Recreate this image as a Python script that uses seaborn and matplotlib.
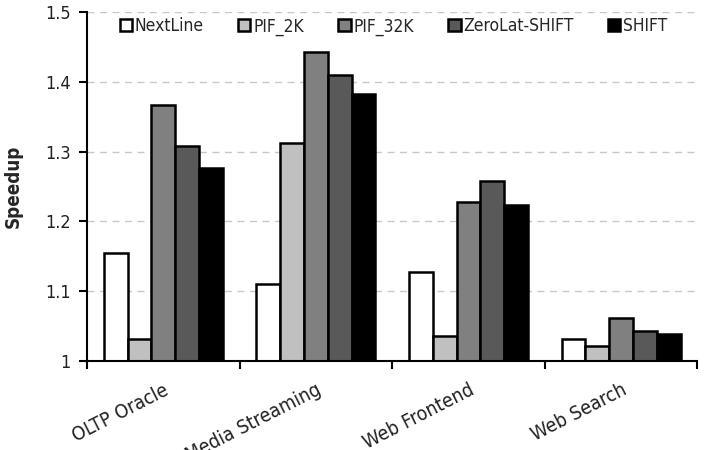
import pandas as pd
import matplotlib.pyplot as plt
import seaborn as sns
from matplotlib.ticker import FixedLocator

# data
workloads = ["OLTP Oracle", "Media Streaming", "Web Frontend", "Web Search"]
schemes = ["NextLine", "PIF_2K", "PIF_32K", "ZeroLat-SHIFT", "SHIFT"]
nextline = [1.155, 1.110, 1.128, 1.031]
pif_2k = [1.032, 1.313, 1.036, 1.021]
pif_32k = [1.367, 1.443, 1.228, 1.062]
zerolat_shift = [1.308, 1.410, 1.258, 1.043]
shift = [1.276, 1.383, 1.223, 1.038]
colors = ["#ffffff", "#c0c0c0", "#808080", "#595959", "#000000"]

values = [nextline, pif_2k, pif_32k, zerolat_shift, shift]
rows = []
for s, vals in zip(schemes, values):
    for w, v in zip(workloads, vals):
        rows.append({"workload": w, "scheme": s, "speedup": v})
df = pd.DataFrame(rows)

sns.set_style("white")
plt.rcParams['font.family'] = ['DejaVu Sans']
plt.rcParams['font.stretch'] = 'condensed'

fig, ax = plt.subplots(figsize=(7.08, 4.5), dpi=100)
fig.subplots_adjust(left=0.123, right=0.985, top=0.973, bottom=0.198)

sns.barplot(data=df, x="workload", y="speedup", hue="scheme", order=workloads,
            hue_order=schemes, palette=colors, width=0.78, saturation=1,
            edgecolor="black", linewidth=1.8, ax=ax)

ax.set_ylim(1.0, 1.5)
ax.set_xlim(-0.5, 3.5)
ax.set_yticks([1.0, 1.1, 1.2, 1.3, 1.4, 1.5])
ax.set_yticklabels(["1", "1.1", "1.2", "1.3", "1.4", "1.5"], fontsize=13, color="#222222")
ax.yaxis.grid(True, linestyle=(0, (5, 4)), color="#c8c8c8", linewidth=1)
ax.set_axisbelow(True)

ax.set_xticks(range(len(workloads)))
ax.set_xticklabels(workloads, rotation=27, ha="right", rotation_mode="anchor",
                   fontsize=14, color="#222222")
ax.xaxis.set_minor_locator(FixedLocator([-0.5, 0.5, 1.5, 2.5, 3.5]))
ax.tick_params(axis="x", which="major", length=0, pad=14)
ax.tick_params(axis="x", which="minor", length=6, width=1.5, direction="out", color="black", bottom=True)
ax.tick_params(axis="y", length=6, width=1.5, direction="out", color="black", left=True, pad=6)

for side in ["top", "right"]:
    ax.spines[side].set_visible(False)
for side in ["left", "bottom"]:
    ax.spines[side].set_color("black")
    ax.spines[side].set_linewidth(1.5)

ax.set_xlabel("")
ax.set_ylabel("Speedup", fontsize=13.5, fontweight="bold", labelpad=16)

ax.legend(loc="upper center", bbox_to_anchor=(0.502, 1.03), ncol=5, frameon=False,
          fontsize=12.5, handlelength=0.7, handleheight=0.7, handletextpad=0.15,
          columnspacing=2.0)

plt.savefig("out.png", dpi=100)
